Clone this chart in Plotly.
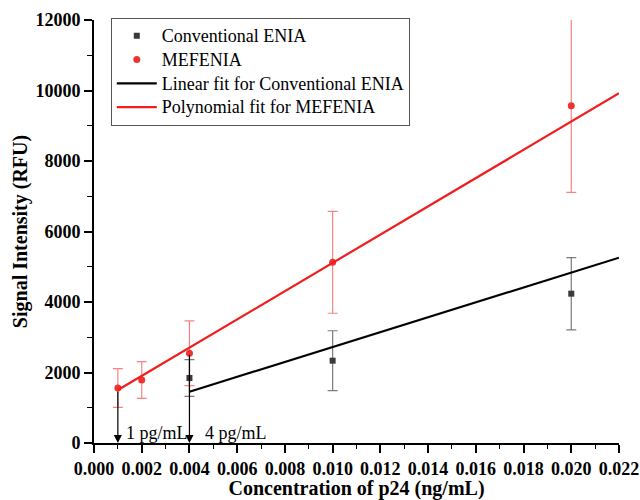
import plotly.graph_objects as go

# ---- data ----
conv_x = [0.004, 0.010, 0.020]
conv_y = [1844, 2335, 4236]
conv_err = [520, 850, 1025]

mef_x = [0.001, 0.002, 0.004, 0.010, 0.020]
mef_y = [1560, 1787, 2545, 5126, 9570]
mef_err = [550, 520, 920, 1445, 2460]

lin_fit_x = [0.004, 0.022]
lin_fit_y = [1456, 5257]

poly_fit_x = [0.001, 0.022]
poly_fit_y = [1503, 9920]

arrow_x = [0.001, 0.004]
arrow_top = [1503, 2545]
arrow_labels = ["1 pg/mL", "4 pg/mL"]

series_names = ["Conventional ENIA", "MEFENIA",
                "Linear fit for Conventional ENIA", "Polynomial fit for MEFENIA"]

x_ticks = [0.000, 0.002, 0.004, 0.006, 0.008, 0.010, 0.012, 0.014, 0.016, 0.018, 0.020, 0.022]
y_ticks = [0, 2000, 4000, 6000, 8000, 10000, 12000]

FONT = "Liberation Serif, Times New Roman, serif"


def legend_label(name):
    return f'<span style="font-size:18px">{name}</span>'


fig = go.Figure()

fig.add_trace(go.Scatter(
    x=conv_x, y=conv_y, mode="markers", name=legend_label(series_names[0]),
    marker=dict(symbol="square", size=6, color="#3a3a3a"),
    error_y=dict(type="data", array=conv_err, color="rgba(90,90,90,0.8)", thickness=1.2, width=5),
))
fig.add_trace(go.Scatter(
    x=mef_x, y=mef_y, mode="markers", name=legend_label(series_names[1]),
    marker=dict(symbol="circle", size=7, color="#ee3333"),
    error_y=dict(type="data", array=mef_err, color="rgba(240,80,80,0.7)", thickness=1.2, width=5),
))
fig.add_trace(go.Scatter(
    x=lin_fit_x, y=lin_fit_y, mode="lines", name=legend_label(series_names[2]),
    line=dict(color="black", width=2.2),
))
fig.add_trace(go.Scatter(
    x=poly_fit_x, y=poly_fit_y, mode="lines", name=legend_label(series_names[3]),
    line=dict(color="#f01e1e", width=2.2),
))

annotations = []
offsets = [0.000257, 0.000568]
for xv, top, lab, off in zip(arrow_x, arrow_top, arrow_labels, offsets):
    annotations.append(dict(
        x=xv, y=0, ax=xv, ay=top, xref="x", yref="y", axref="x", ayref="y",
        showarrow=True, arrowhead=2, arrowsize=1.35, arrowwidth=1.2, arrowcolor="black",
        text="", standoff=0,
    ))
    annotations.append(dict(
        x=xv + off, y=290, xref="x", yref="y", text=lab, showarrow=False,
        xanchor="left", yanchor="middle",
        font=dict(family=FONT, size=18, color="black"),
    ))

fig.update_layout(
    width=640, height=500,
    margin=dict(l=94, r=21, t=20, b=57),
    paper_bgcolor="white", plot_bgcolor="white",
    showlegend=True,
    legend=dict(
        x=0.032, y=1.005, xanchor="left", yanchor="top",
        bgcolor="white", bordercolor="#555555", borderwidth=1,
        font=dict(family=FONT, size=16, color="black"),
        tracegroupgap=0, itemwidth=40,
    ),
    annotations=annotations,
    xaxis=dict(
        range=[0, 0.022], tickvals=x_ticks, ticktext=[f"{v:.3f}" for v in x_ticks],
        automargin=False,
        showline=True, linecolor="black", linewidth=2, showgrid=False, zeroline=False,
        ticks="outside", ticklen=8, tickwidth=1.5, tickcolor="black",
        minor=dict(dtick=0.001, ticks="outside", ticklen=4, tickwidth=1.2, tickcolor="black"),
        tickfont=dict(family=FONT, size=18, color="black", weight="bold"),
        title=dict(text="Concentration of p24 (ng/mL)", standoff=6,
                   font=dict(family=FONT, size=20, color="black", weight="bold")),
    ),
    yaxis=dict(
        range=[0, 12000], tickvals=y_ticks, ticktext=[str(v) for v in y_ticks],
        automargin=False,
        showline=True, linecolor="black", linewidth=2, showgrid=False, zeroline=False,
        ticks="outside", ticklen=8, tickwidth=1.5, tickcolor="black",
        minor=dict(dtick=1000, ticks="outside", ticklen=5, tickwidth=1.2, tickcolor="black"),
        tickfont=dict(family=FONT, size=18, color="black", weight="bold"),
        title=dict(text="Signal Intensity (RFU)", standoff=2,
                   font=dict(family=FONT, size=20, color="black", weight="bold")),
    ),
)

# remove the default page margin so the 640x500 figure fills the window exactly
fig.write_html(
    "out.html",
    config={"displayModeBar": False},
    post_script="document.body.style.margin='0';document.body.style.overflow='hidden';",
)
